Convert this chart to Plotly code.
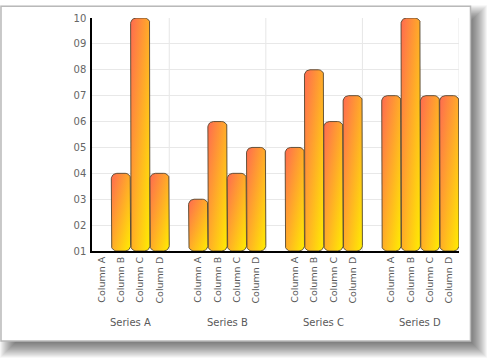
import plotly.graph_objects as go
import math

# ---- data ----
series_names = ["Series A", "Series B", "Series C", "Series D"]
column_names = ["Column A", "Column B", "Column C", "Column D"]
col_a = [1, 3, 5, 7]
col_b = [4, 6, 8, 10]
col_c = [10, 4, 6, 7]
col_d = [4, 5, 7, 7]
y_tick_values = [1, 2, 3, 4, 5, 6, 7, 8, 9, 10]
y_tick_labels = ["01", "02", "03", "04", "05", "06", "07", "08", "09", "10"]

columns = [col_a, col_b, col_c, col_d]
baseline = 1
y_max = 10

# ---- layout geometry ----
W, H = 491, 364
ML, MR, MT, MB = 92, 32, 13, 113
PW, PH = W - ML - MR, H - MT - MB
group_step = len(column_names) + 1
x_lo, x_hi = -0.5, group_step * len(series_names) - 1.5
px_x = PW / (x_hi - x_lo)
px_y = PH / (y_max - baseline)
R = 5.5  # corner radius in px


def rounded_bar(xc, top):
    x0, x1 = xc - 0.5, xc + 0.5
    y0, y1 = baseline, top
    r = min(R, (y1 - y0) * px_y / 2, px_x / 2)
    rx, ry = r / px_x, r / px_y
    pts = []
    def arc(cx, cy, a0, a1):
        n = 8
        for k in range(n + 1):
            a = math.radians(a0 + (a1 - a0) * k / n)
            pts.append((cx + rx * math.cos(a), cy + ry * math.sin(a)))
    arc(x1 - rx, y0 + ry, 270, 360)   # bottom-right
    arc(x1 - rx, y1 - ry, 0, 90)      # top-right
    arc(x0 + rx, y1 - ry, 90, 180)    # top-left
    arc(x0 + rx, y0 + ry, 180, 270)   # bottom-left
    pts.append(pts[0])
    return [p[0] for p in pts], [p[1] for p in pts]


RED = (255, 106, 80)
YEL = (255, 238, 0)

fig = go.Figure()
tick_pos, tick_txt = [], []
for g, sname in enumerate(series_names):
    for c, cname in enumerate(column_names):
        xc = g * group_step + c
        tick_pos.append(xc)
        tick_txt.append(cname)
        v = columns[c][g]
        if v <= baseline:
            continue
        xs, ys = rounded_bar(xc, v)
        fig.add_trace(go.Scatter(
            x=xs, y=ys, mode="lines", fill="toself",
            line=dict(width=0, color="rgba(0,0,0,0)"),
            fillgradient=dict(type="vertical",
                              colorscale=[[0, "rgb(%d,%d,%d)" % YEL], [1, "rgb(%d,%d,%d)" % RED]]),
            hoverinfo="skip", showlegend=False))
        fig.add_trace(go.Scatter(
            x=xs, y=ys, mode="lines", fill="toself",
            line=dict(width=1, color="rgba(85,72,50,0.9)"),
            fillgradient=dict(type="horizontal",
                              colorscale=[[0, "rgba(%d,%d,%d,0.5)" % RED], [1, "rgba(%d,%d,%d,0.5)" % YEL]]),
            hoverinfo="skip", showlegend=False))


def px2paper_x(px):
    return (px - ML) / PW


def px2paper_y(py):
    return (MT + PH - py) / PH


shapes = []
# drop shadow
for d in range(-9, 8):
    shapes.append(dict(type="rect", xref="paper", yref="paper", layer="below",
                       x0=px2paper_x(9 + d), x1=px2paper_x(478 - d),
                       y0=px2paper_y(9 + d), y1=px2paper_y(351 - d),
                       line=dict(width=0), fillcolor="rgba(0,0,0,0.04)"))
# panel
shapes.append(dict(type="rect", xref="paper", yref="paper", layer="below",
                   x0=px2paper_x(1), x1=px2paper_x(470.5),
                   y0=px2paper_y(1), y1=px2paper_y(343),
                   line=dict(width=1.5, color="#b9b9b9"), fillcolor="white"))
# vertical gridlines at group ends
for g in range(len(series_names)):
    xg = g * group_step + len(column_names) - 0.5
    shapes.append(dict(type="line", xref="x", yref="y", layer="below",
                       x0=xg, x1=xg, y0=baseline, y1=y_max,
                       line=dict(width=1, color="#e6e6e6")))

annotations = []
for g, sname in enumerate(series_names):
    annotations.append(dict(x=g * group_step + (len(column_names) - 1) / 2, xref="x",
                            y=px2paper_y(324), yref="paper", text=sname, showarrow=False,
                            yanchor="middle", xanchor="center",
                            font=dict(family="DejaVu Sans", size=10, color="#5a5a5a")))

fig.update_layout(
    width=W, height=H, autosize=False,
    margin=dict(l=ML, r=MR, t=MT, b=MB),
    paper_bgcolor="white", plot_bgcolor="rgba(0,0,0,0)",
    shapes=shapes, annotations=annotations,
    font=dict(family="DejaVu Sans", color="#555555"),
    xaxis=dict(range=[x_lo, x_hi], tickmode="array", tickvals=tick_pos, ticktext=tick_txt,
               tickangle=-90, showgrid=False, zeroline=False, showline=True,
               linecolor="black", linewidth=2, ticks="",
               tickfont=dict(family="DejaVu Sans", size=9.5, color="#5a5a5a")),
    yaxis=dict(range=[baseline, y_max], tickmode="array", tickvals=y_tick_values,
               ticktext=y_tick_labels, showgrid=True, gridcolor="#e8e8e8", gridwidth=1,
               zeroline=False, showline=True, linecolor="black", linewidth=1.5, ticks="",
               ticklabelstandoff=2,
               tickfont=dict(family="DejaVu Sans", size=10, color="#666666")),
)

fig.write_html("out.html", config={"displayModeBar": False},
               post_script="document.body.style.margin='0';document.body.style.overflow='hidden';")
